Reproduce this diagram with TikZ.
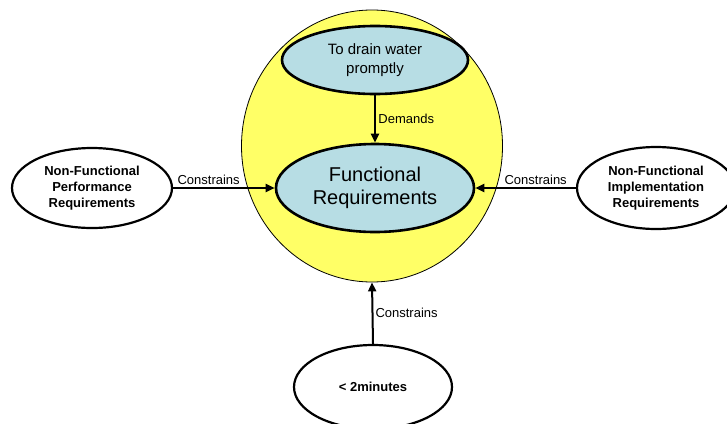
\documentclass[tikz,border=0pt]{standalone}
\usepackage{fontspec}
\setmainfont{Liberation Sans}
\usetikzlibrary{arrows.meta,shapes.geometric}

\definecolor{scopeyellow}{RGB}{255,255,102}
\definecolor{reqblue}{RGB}{183,221,228}

\begin{document}
\begin{tikzpicture}[
  x=1pt, y=-1pt,
  scopecircle/.style={draw, ellipse, fill=scopeyellow, line width=0.8pt, inner sep=0pt},
  funcreq/.style={draw, ellipse, fill=reqblue, line width=2.6pt, align=center, inner sep=0pt},
  nfreq/.style={draw, ellipse, fill=white, line width=2.2pt, align=center, inner sep=0pt,
    font=\fontsize{13}{16}\selectfont\bfseries},
  lbl/.style={font=\fontsize{13}{15}\selectfont, inner sep=2pt},
  >={Triangle[length=9pt, width=8pt]}
]
\useasboundingbox (0,0) rectangle (727,423);

\node[scopecircle, minimum width=261pt, minimum height=272pt] (scope) at (372,146) {};
\node[funcreq, minimum width=186pt, minimum height=68pt, font=\fontsize{15}{19}\selectfont] (goal) at (375,60) {To drain water\\promptly};
\node[funcreq, minimum width=198pt, minimum height=88pt, font=\fontsize{20}{23}\selectfont] (func) at (375,188) {Functional\\Requirements};
\node[nfreq, minimum width=160pt, minimum height=80pt] (perf) at (92,188) {Non-Functional\\Performance\\Requirements};
\node[nfreq, minimum width=158pt, minimum height=82pt] (impl) at (656,188) {Non-Functional\\Implementation\\Requirements};
\node[nfreq, minimum width=158pt, minimum height=84pt] (time) at (373,387) {< 2minutes};

\draw[->, line width=2.8pt] (goal.south) -- node[lbl, right] {Demands} (func.north);
\draw[->, line width=2pt] (perf.east) -- node[lbl, above, pos=0.35] {Constrains} (func.west);
\draw[->, line width=2pt] (impl.west) -- node[lbl, above, pos=0.4] {Constrains} (func.east);
\draw[->, line width=2pt] (time.north) -- node[lbl, right] {Constrains} (scope.south);

\end{tikzpicture}
\end{document}
